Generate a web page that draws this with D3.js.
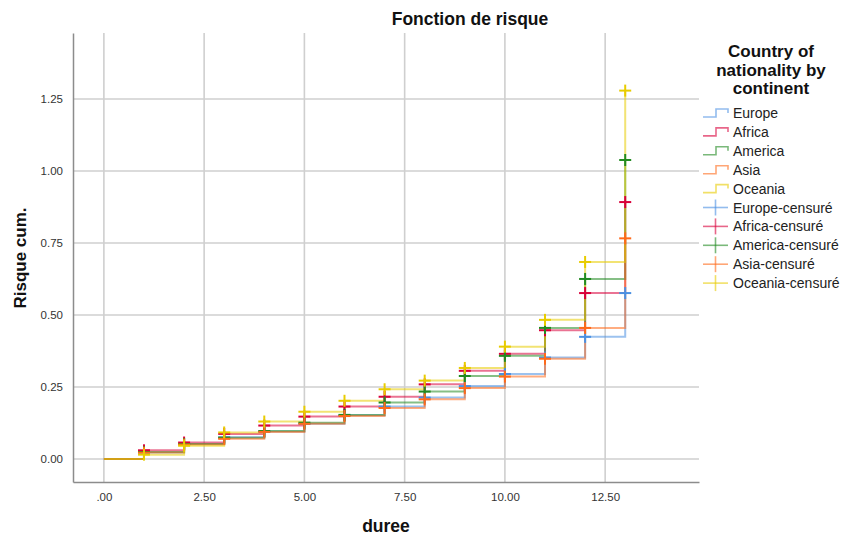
<!DOCTYPE html>
<html>
<head>
<meta charset="utf-8">
<script src="https://cdn.jsdelivr.net/npm/d3@7"></script>
<style>
  body { margin: 0; background: #fff; }
  svg { font-family: "Liberation Sans", Arial, sans-serif; }
</style>
</head>
<body>
<div id="chart"></div>
<script>
// durées (pas de temps)
const times = [0, 1, 2, 3, 4, 5, 6, 7, 8, 9, 10, 11, 12, 13];

// risque cumulé
const europe  = [0, 0.022, 0.052, 0.075, 0.095, 0.122, 0.152, 0.182, 0.213, 0.253, 0.295, 0.352, 0.424, 0.576];
const africa  = [0, 0.030, 0.057, 0.087, 0.116, 0.147, 0.182, 0.216, 0.259, 0.306, 0.365, 0.447, 0.576, 0.892];
const america = [0, 0.024, 0.052, 0.074, 0.097, 0.126, 0.153, 0.196, 0.234, 0.288, 0.358, 0.455, 0.625, 1.038];
const asia    = [0, 0.022, 0.050, 0.070, 0.094, 0.122, 0.149, 0.177, 0.207, 0.246, 0.286, 0.348, 0.455, 0.766];
const oceania = [0, 0.015, 0.046, 0.092, 0.130, 0.164, 0.202, 0.242, 0.272, 0.316, 0.390, 0.483, 0.684, 1.279];

const groups = ["Europe", "Africa", "America", "Asia", "Oceania"];
const seriesValues = [europe, africa, america, asia, oceania];
const colors = ["#4a90e2", "#d9003a", "#228b22", "#ff6a1a", "#e8cc00"];

const xTicks = [0, 2.5, 5, 7.5, 10, 12.5];
const yTicks = [0, 0.25, 0.5, 0.75, 1.0, 1.25];

const W = 844, H = 536;
const plot = { left: 73, right: 699, top: 33, bottom: 482 };

const svg = d3.select("#chart").append("svg")
    .attr("width", W)
    .attr("height", H);

const x = d3.scaleLinear().domain([-0.77, 14.84]).range([plot.left, plot.right]);
const y = d3.scaleLinear().domain([-0.08, 1.479]).range([plot.bottom, plot.top]);

// grille
svg.append("g").selectAll("line")
    .data(xTicks).enter().append("line")
    .attr("x1", d => x(d)).attr("x2", d => x(d))
    .attr("y1", plot.top).attr("y2", plot.bottom)
    .attr("stroke", "#cfcfcf").attr("stroke-width", 1.6);

svg.append("g").selectAll("line")
    .data(yTicks).enter().append("line")
    .attr("x1", plot.left).attr("x2", plot.right)
    .attr("y1", d => y(d)).attr("y2", d => y(d))
    .attr("stroke", "#cfcfcf").attr("stroke-width", 1.6);

// axes
const xAxis = svg.append("g")
    .attr("transform", "translate(0," + plot.bottom + ")")
    .call(d3.axisBottom(x).tickValues(xTicks).tickSize(0).tickPadding(11)
        .tickFormat(d => d === 0 ? ".00" : d3.format(".2f")(d)));
xAxis.select(".domain").attr("stroke", "#8c8c8c").attr("stroke-width", 1.5);
xAxis.selectAll("text").style("font-size", "11.5px").attr("fill", "#333");

const yAxis = svg.append("g")
    .attr("transform", "translate(" + plot.left + ",0)")
    .call(d3.axisLeft(y).tickValues(yTicks).tickSize(0).tickPadding(10)
        .tickFormat(d3.format(".2f")));
yAxis.select(".domain").attr("stroke", "#8c8c8c").attr("stroke-width", 1.5);
yAxis.selectAll("text").style("font-size", "11.5px").attr("fill", "#333");

// courbes en escalier
const line = d3.line()
    .x(d => x(d[0]))
    .y(d => y(d[1]))
    .curve(d3.curveStepAfter);

seriesValues.forEach((vals, i) => {
    const pts = times.map((t, j) => [t, vals[j]]);
    svg.append("path")
        .datum(pts)
        .attr("fill", "none")
        .attr("stroke", colors[i])
        .attr("stroke-opacity", 0.55)
        .attr("stroke-width", 2)
        .attr("d", line);
});

// marques de censure
seriesValues.forEach((vals, i) => {
    const pts = times.slice(1).map((t, j) => [t, vals[j + 1]]);
    const g = svg.append("g").attr("stroke", colors[i]).attr("stroke-width", 2);
    g.selectAll(".h").data(pts).enter().append("line")
        .attr("x1", d => x(d[0]) - 6).attr("x2", d => x(d[0]) + 6)
        .attr("y1", d => y(d[1])).attr("y2", d => y(d[1]));
    g.selectAll(".v").data(pts).enter().append("line")
        .attr("x1", d => x(d[0])).attr("x2", d => x(d[0]))
        .attr("y1", d => y(d[1]) - 6).attr("y2", d => y(d[1]) + 6);
});

// titres
svg.append("text")
    .attr("x", 470).attr("y", 25)
    .attr("text-anchor", "middle")
    .style("font-size", "17.5px").style("font-weight", "bold")
    .attr("fill", "#111")
    .text("Fonction de risque");

svg.append("text")
    .attr("x", (plot.left + plot.right) / 2).attr("y", 532)
    .attr("text-anchor", "middle")
    .style("font-size", "17.5px").style("font-weight", "bold")
    .attr("fill", "#111")
    .text("duree");

svg.append("text")
    .attr("transform", "translate(26," + 258 + ") rotate(-90)")
    .attr("text-anchor", "middle")
    .style("font-size", "17px").style("font-weight", "bold")
    .attr("fill", "#111")
    .text("Risque cum.");

// légende
const legTitle = ["Country of", "nationality by", "continent"];
svg.append("g").selectAll("text")
    .data(legTitle).enter().append("text")
    .attr("x", 771).attr("y", (d, i) => 57 + i * 18.5)
    .attr("text-anchor", "middle")
    .style("font-size", "17px").style("font-weight", "bold")
    .attr("fill", "#111")
    .text(d => d);

const legend = svg.append("g");
const rowH = 18.9;
groups.forEach((name, i) => {
    const cy = 113 + i * rowH;
    legend.append("path")
        .attr("d", `M703,${cy + 4}H716V${cy - 4}H728V${cy}`)
        .attr("fill", "none")
        .attr("stroke", colors[i]).attr("stroke-opacity", 0.6).attr("stroke-width", 1.6);
    legend.append("text")
        .attr("x", 733).attr("y", cy + 5)
        .style("font-size", "14px").attr("fill", "#222")
        .text(name);
});
groups.forEach((name, i) => {
    const cy = 113 + (i + 5) * rowH;
    legend.append("line")
        .attr("x1", 703).attr("x2", 728).attr("y1", cy).attr("y2", cy)
        .attr("stroke", colors[i]).attr("stroke-opacity", 0.6).attr("stroke-width", 1.6);
    legend.append("line")
        .attr("x1", 715.5).attr("x2", 715.5).attr("y1", cy - 8).attr("y2", cy + 8)
        .attr("stroke", colors[i]).attr("stroke-opacity", 0.6).attr("stroke-width", 1.6);
    legend.append("text")
        .attr("x", 733).attr("y", cy + 5)
        .style("font-size", "14px").attr("fill", "#222")
        .text(name + "-censuré");
});
</script>
</body>
</html>
